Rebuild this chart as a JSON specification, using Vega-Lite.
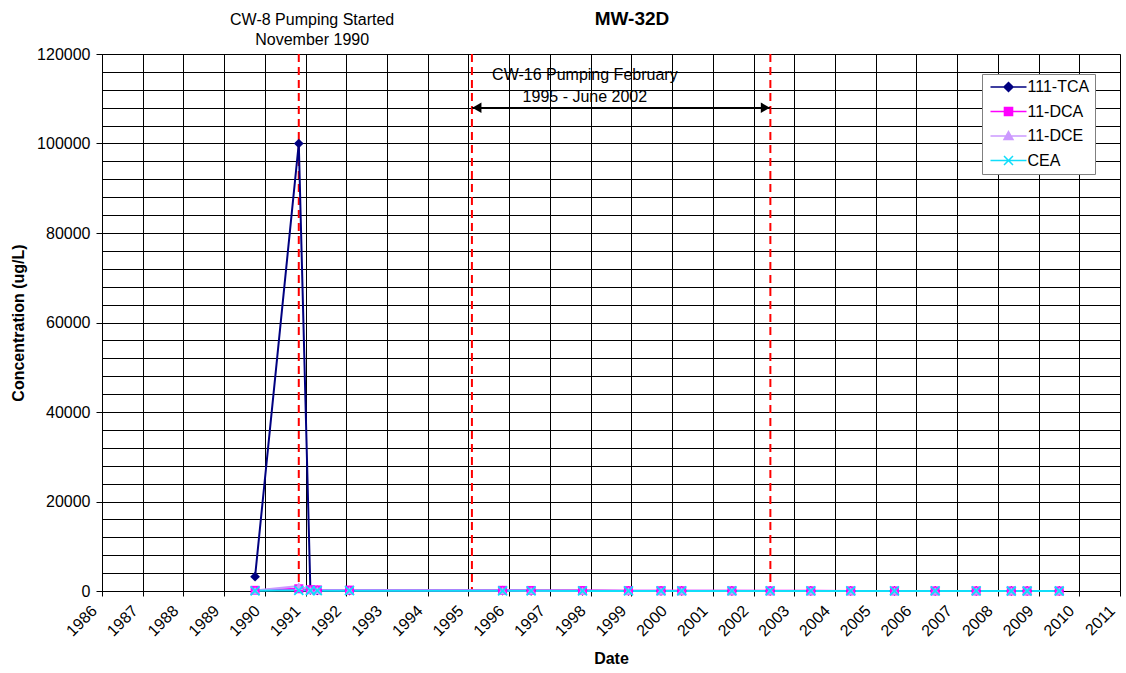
{
  "$schema": "https://vega.github.io/schema/vega-lite/v6.json",
  "autosize": "none",
  "width": 1018,
  "height": 537,
  "padding": {"left": 102, "top": 54, "right": 6, "bottom": 82},
  "background": "white",
  "config": {
    "font": "Liberation Sans",
    "view": {"stroke": "#808080", "strokeWidth": 1},
    "axis": {"labelColor": "#000", "titleColor": "#000", "labelFont": "Liberation Sans", "titleFont": "Liberation Sans"}
  },
  "title": {"text": "MW-32D", "fontSize": 19, "fontWeight": "bold", "color": "#000", "dx": 21, "offset": 0, "dy": 17, "font": "Liberation Sans"},
  "datasets": {
    "obs": [
      {"date": "1989/10/05", "series": "111-TCA", "value": 3200},
      {"date": "1990/11/01", "series": "111-TCA", "value": 100000},
      {"date": "1991/02/13", "series": "111-TCA", "value": 250},
      {"date": "1991/04/16", "series": "111-TCA", "value": 150},
      {"date": "1992/01/30", "series": "111-TCA", "value": 100},
      {"date": "1995/11/03", "series": "111-TCA", "value": 60},
      {"date": "1996/07/16", "series": "111-TCA", "value": 40},
      {"date": "1997/10/20", "series": "111-TCA", "value": 30},
      {"date": "1998/12/06", "series": "111-TCA", "value": 20},
      {"date": "1999/09/24", "series": "111-TCA", "value": 15},
      {"date": "2000/03/28", "series": "111-TCA", "value": 12},
      {"date": "2001/06/21", "series": "111-TCA", "value": 10},
      {"date": "2002/05/30", "series": "111-TCA", "value": 8},
      {"date": "2003/05/30", "series": "111-TCA", "value": 6},
      {"date": "2004/05/22", "series": "111-TCA", "value": 5},
      {"date": "2005/06/18", "series": "111-TCA", "value": 5},
      {"date": "2006/06/18", "series": "111-TCA", "value": 4},
      {"date": "2007/06/21", "series": "111-TCA", "value": 3},
      {"date": "2008/05/01", "series": "111-TCA", "value": 3},
      {"date": "2008/09/20", "series": "111-TCA", "value": 2},
      {"date": "2009/07/05", "series": "111-TCA", "value": 2},
      {"date": "1989/10/05", "series": "11-DCA", "value": 150},
      {"date": "1990/11/01", "series": "11-DCA", "value": 500},
      {"date": "1991/02/13", "series": "11-DCA", "value": 300},
      {"date": "1991/04/16", "series": "11-DCA", "value": 250},
      {"date": "1992/01/30", "series": "11-DCA", "value": 200},
      {"date": "1995/11/03", "series": "11-DCA", "value": 150},
      {"date": "1996/07/16", "series": "11-DCA", "value": 120},
      {"date": "1997/10/20", "series": "11-DCA", "value": 100},
      {"date": "1998/12/06", "series": "11-DCA", "value": 80},
      {"date": "1999/09/24", "series": "11-DCA", "value": 60},
      {"date": "2000/03/28", "series": "11-DCA", "value": 50},
      {"date": "2001/06/21", "series": "11-DCA", "value": 40},
      {"date": "2002/05/30", "series": "11-DCA", "value": 35},
      {"date": "2003/05/30", "series": "11-DCA", "value": 30},
      {"date": "2004/05/22", "series": "11-DCA", "value": 25},
      {"date": "2005/06/18", "series": "11-DCA", "value": 20},
      {"date": "2006/06/18", "series": "11-DCA", "value": 18},
      {"date": "2007/06/21", "series": "11-DCA", "value": 15},
      {"date": "2008/05/01", "series": "11-DCA", "value": 12},
      {"date": "2008/09/20", "series": "11-DCA", "value": 10},
      {"date": "2009/07/05", "series": "11-DCA", "value": 8},
      {"date": "1989/10/05", "series": "11-DCE", "value": 100},
      {"date": "1990/11/01", "series": "11-DCE", "value": 1100},
      {"date": "1991/02/13", "series": "11-DCE", "value": 250},
      {"date": "1991/04/16", "series": "11-DCE", "value": 200},
      {"date": "1992/01/30", "series": "11-DCE", "value": 150},
      {"date": "1995/11/03", "series": "11-DCE", "value": 100},
      {"date": "1996/07/16", "series": "11-DCE", "value": 80},
      {"date": "1997/10/20", "series": "11-DCE", "value": 60},
      {"date": "1998/12/06", "series": "11-DCE", "value": 50},
      {"date": "1999/09/24", "series": "11-DCE", "value": 40},
      {"date": "2000/03/28", "series": "11-DCE", "value": 35},
      {"date": "2001/06/21", "series": "11-DCE", "value": 30},
      {"date": "2002/05/30", "series": "11-DCE", "value": 25},
      {"date": "2003/05/30", "series": "11-DCE", "value": 20},
      {"date": "2004/05/22", "series": "11-DCE", "value": 18},
      {"date": "2005/06/18", "series": "11-DCE", "value": 15},
      {"date": "2006/06/18", "series": "11-DCE", "value": 12},
      {"date": "2007/06/21", "series": "11-DCE", "value": 10},
      {"date": "2008/05/01", "series": "11-DCE", "value": 8},
      {"date": "2008/09/20", "series": "11-DCE", "value": 6},
      {"date": "2009/07/05", "series": "11-DCE", "value": 5},
      {"date": "1989/10/05", "series": "CEA", "value": 50},
      {"date": "1990/11/01", "series": "CEA", "value": 150},
      {"date": "1991/02/13", "series": "CEA", "value": 100},
      {"date": "1991/04/16", "series": "CEA", "value": 80},
      {"date": "1992/01/30", "series": "CEA", "value": 60},
      {"date": "1995/11/03", "series": "CEA", "value": 40},
      {"date": "1996/07/16", "series": "CEA", "value": 30},
      {"date": "1997/10/20", "series": "CEA", "value": 25},
      {"date": "1998/12/06", "series": "CEA", "value": 20},
      {"date": "1999/09/24", "series": "CEA", "value": 15},
      {"date": "2000/03/28", "series": "CEA", "value": 12},
      {"date": "2001/06/21", "series": "CEA", "value": 10},
      {"date": "2002/05/30", "series": "CEA", "value": 8},
      {"date": "2003/05/30", "series": "CEA", "value": 6},
      {"date": "2004/05/22", "series": "CEA", "value": 5},
      {"date": "2005/06/18", "series": "CEA", "value": 4},
      {"date": "2006/06/18", "series": "CEA", "value": 3},
      {"date": "2007/06/21", "series": "CEA", "value": 3},
      {"date": "2008/05/01", "series": "CEA", "value": 2},
      {"date": "2008/09/20", "series": "CEA", "value": 2},
      {"date": "2009/07/05", "series": "CEA", "value": 2}
    ],
    "events": [
      {"date": "1990/11/01"},
      {"date": "1995/02/01"},
      {"date": "2002/06/01"}
    ],
    "span": [
      {"start": "1995/02/01", "end": "2002/06/01", "level": 108000}
    ],
    "notes": [
      {"date": "1991/03/01", "level": 126400, "label": "CW-8 Pumping Started"},
      {"date": "1991/03/01", "level": 122000, "label": "November 1990"},
      {"date": "1997/11/10", "level": 114200, "label": "CW-16 Pumping February"},
      {"date": "1997/11/10", "level": 109300, "label": "1995 - June 2002"}
    ]
  },
  "layer": [
    {
      "data": {"name": "events"},
      "mark": {"type": "rule", "color": "#FF0000", "strokeWidth": 2, "strokeDash": [8, 5]},
      "encoding": {
        "x": {"field": "date", "type": "temporal"}
      }
    },
    {
      "data": {"name": "obs"},
      "mark": {"type": "line", "strokeWidth": 2},
      "encoding": {
        "x": {
          "field": "date", "type": "temporal",
          "scale": {"domain": [{"year": 1986, "month": 1, "date": 1}, {"year": 2011, "month": 1, "date": 1}], "nice": false},
          "axis": {
            "title": "Date", "titleFontSize": 16, "titleFontWeight": "bold", "titlePadding": 12,
            "format": "%Y", "tickCount": {"interval": "year", "step": 1},
            "labelAngle": -45, "labelAlign": "right", "labelBaseline": "middle", "labelOffset": -8,
            "labelFontSize": 16, "labelPadding": 12, "labelOverlap": false, "labelBound": false, "labelFlush": false,
            "grid": true, "gridColor": "#000", "gridWidth": 1, "gridOpacity": 1,
            "tickSize": 5, "tickColor": "#000", "domainColor": "#000"
          }
        },
        "y": {
          "field": "value", "type": "quantitative",
          "scale": {"domain": [0, 120000], "nice": false, "zero": true},
          "axis": {
            "title": "Concentration (ug/L)", "titleFontSize": 16, "titleFontWeight": "bold", "titlePadding": 10,
            "values": [0, 4000, 8000, 12000, 16000, 20000, 24000, 28000, 32000, 36000, 40000, 44000, 48000, 52000, 56000, 60000, 64000, 68000, 72000, 76000, 80000, 84000, 88000, 92000, 96000, 100000, 104000, 108000, 112000, 116000, 120000],
            "tickCount": 50,
            "labelExpr": "datum.value % 20000 === 0 ? format(datum.value, 'd') : ''",
            "labelFontSize": 16, "labelPadding": 6, "labelOverlap": false,
            "tickSize": 6, "tickColor": "#000",
            "tickOpacity": {"condition": {"test": "datum.value % 20000 === 0", "value": 1}, "value": 0},
            "grid": true, "gridColor": "#000", "gridWidth": 1, "gridOpacity": 1,
            "domainColor": "#000"
          }
        },
        "color": {
          "field": "series", "type": "nominal",
          "scale": {"domain": ["111-TCA", "11-DCA", "11-DCE", "CEA"], "range": ["#000080", "#FF00FF", "#CC99FF", "#10DDFA"]},
          "legend": {
            "title": null,
            "orient": "none", "legendX": 880, "legendY": 20,
            "direction": "vertical",
            "fillColor": "#FFFFFF", "strokeColor": "#808080", "padding": 5,
            "labelFontSize": 16, "labelColor": "#000", "labelFont": "Liberation Sans",
            "symbolSize": 81, "symbolOffset": 13.5, "labelOffset": 11, "rowPadding": 8.5,
            "symbolStrokeWidth": 1.5,
            "encode": {
              "symbols": {
                "update": {
                  "shape": {"signal": "datum.value === '111-TCA' ? 'M-4,0L4,0M0,-1L1,0L0,1L-1,0Z' : datum.value === '11-DCA' ? 'M-4,0L4,0M-0.9,-0.9L0.9,-0.9L0.9,0.9L-0.9,0.9Z' : datum.value === '11-DCE' ? 'M-4,0L4,0M0,-1L1,0.8L-1,0.8Z' : 'M-4,0L4,0M-1,-1L1,1M-1,1L1,-1'"},
                  "fill": {"signal": "datum.value === '111-TCA' ? '#000080' : datum.value === '11-DCA' ? '#FF00FF' : datum.value === '11-DCE' ? '#CC99FF' : '#00FFFF'"},
                  "strokeWidth": {"value": 1.5},
                  "opacity": {"value": 1}
                }
              }
            }
          }
        }
      }
    },
    {
      "data": {"name": "obs"},
      "transform": [{"filter": "datum.series === '111-TCA'"}],
      "mark": {"type": "point", "shape": "diamond", "filled": true, "opacity": 1, "size": 95, "color": "#000080"},
      "encoding": {
        "x": {"field": "date", "type": "temporal"},
        "y": {"field": "value", "type": "quantitative"}
      }
    },
    {
      "data": {"name": "obs"},
      "transform": [{"filter": "datum.series === '11-DCA'"}],
      "mark": {"type": "point", "shape": "square", "filled": true, "opacity": 1, "size": 81, "color": "#FF00FF"},
      "encoding": {
        "x": {"field": "date", "type": "temporal"},
        "y": {"field": "value", "type": "quantitative"}
      }
    },
    {
      "data": {"name": "obs"},
      "transform": [{"filter": "datum.series === '11-DCE'"}],
      "mark": {"type": "point", "shape": "triangle-up", "filled": true, "opacity": 1, "size": 81, "color": "#CC99FF"},
      "encoding": {
        "x": {"field": "date", "type": "temporal"},
        "y": {"field": "value", "type": "quantitative"}
      }
    },
    {
      "data": {"name": "obs"},
      "transform": [{"filter": "datum.series === 'CEA'"}],
      "mark": {"type": "point", "shape": "M-1,-1L1,1M-1,1L1,-1", "filled": false, "opacity": 1, "size": 81, "strokeWidth": 1.8, "color": "#10DDFA"},
      "encoding": {
        "x": {"field": "date", "type": "temporal"},
        "y": {"field": "value", "type": "quantitative"}
      }
    },
    {
      "data": {"name": "span"},
      "mark": {"type": "rule", "color": "#000", "strokeWidth": 1.5},
      "encoding": {
        "x": {"field": "start", "type": "temporal"},
        "x2": {"field": "end"},
        "y": {"field": "level", "type": "quantitative"}
      }
    },
    {
      "data": {"name": "span"},
      "mark": {"type": "point", "filled": true, "opacity": 1, "size": 110, "color": "#000", "shape": "triangle-left", "xOffset": 5},
      "encoding": {
        "x": {"field": "start", "type": "temporal"},
        "y": {"field": "level", "type": "quantitative"}
      }
    },
    {
      "data": {"name": "span"},
      "mark": {"type": "point", "filled": true, "opacity": 1, "size": 110, "color": "#000", "shape": "triangle-right", "xOffset": -5},
      "encoding": {
        "x": {"field": "end", "type": "temporal"},
        "y": {"field": "level", "type": "quantitative"}
      }
    },
    {
      "data": {"name": "notes"},
      "mark": {"type": "text", "fontSize": 16, "color": "#000", "align": "center", "baseline": "alphabetic", "font": "Liberation Sans"},
      "encoding": {
        "x": {"field": "date", "type": "temporal"},
        "y": {"field": "level", "type": "quantitative"},
        "text": {"field": "label"}
      }
    }
  ]
}
